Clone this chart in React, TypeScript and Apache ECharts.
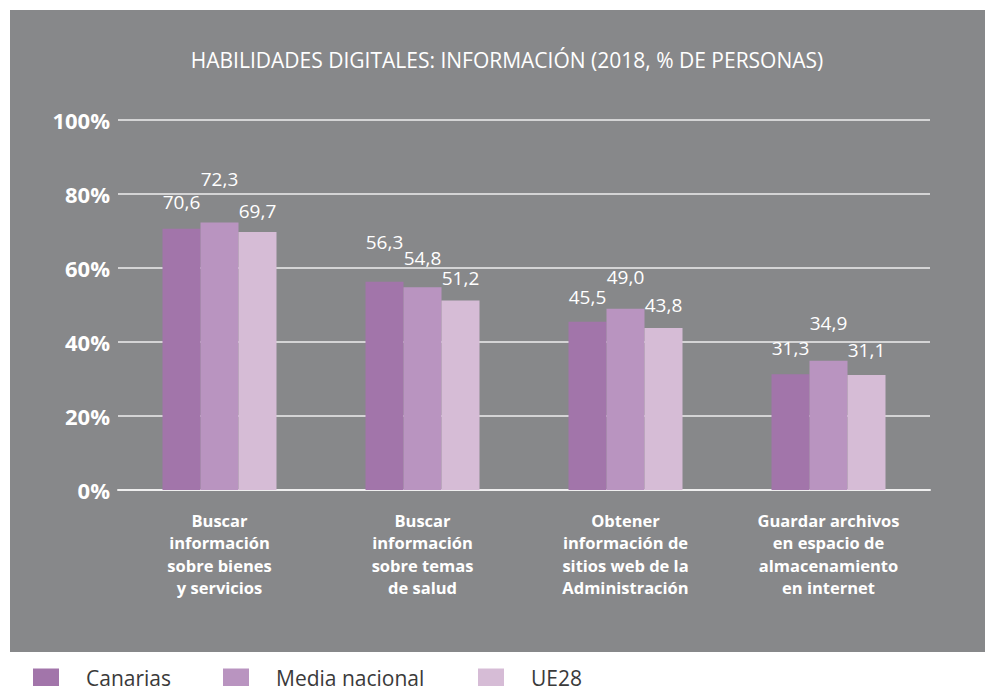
import React, { useEffect, useRef } from "react";
import * as echarts from "echarts";

const titleText = "HABILIDADES DIGITALES: INFORMACIÓN (2018, % DE PERSONAS)";
const categories = [
  "Buscar\ninformación\nsobre bienes\ny servicios",
  "Buscar\ninformación\nsobre temas\nde salud",
  "Obtener\ninformación de\nsitios web de la\nAdministración",
  "Guardar archivos\nen espacio de\nalmacenamiento\nen internet",
];
const seriesNames = ["Canarias", "Media nacional", "UE28"];
const canarias = [70.6, 56.3, 45.5, 31.3];
const mediaNacional = [72.3, 54.8, 49.0, 34.9];
const ue28 = [69.7, 51.2, 43.8, 31.1];
const yTicks = [0, 20, 40, 60, 80, 100];

// styling: label lift above bar per series/category (pixels)
const labelLift = [
  [17, 30, 15, 17],
  [34, 20, 22, 28],
  [12, 13, 13, 15],
];
const colors = ["#a275aa", "#b994c0", "#d6bcd6"];
const legendPos = [33, 223, 478];

export default function App() {
  const ref = useRef<HTMLDivElement>(null);
  useEffect(() => {
    document.body.style.margin = "0";
    const chart = echarts.init(ref.current!, null, { renderer: "svg" });
    const allData = [canarias, mediaNacional, ue28];
    const font = "'Open Sans', sans-serif";
    chart.setOption({
      animation: false,
      textStyle: { fontFamily: font },
      graphic: [
        {
          type: "rect",
          z: -10,
          silent: true,
          shape: { x: 10, y: 10, width: 975, height: 642 },
          style: { fill: "#87888a" },
        },
      ],
      title: {
        text: titleText,
        left: 502,
        textAlign: "center",
        top: 44,
        textStyle: { color: "#ffffff", fontSize: 21, fontWeight: "normal", fontFamily: font },
      },
      legend: seriesNames.map((n, i) => ({
        data: [n],
        left: legendPos[i],
        top: 667,
        padding: 0,
        itemWidth: 26,
        itemHeight: 18,
        icon: "rect",
        textStyle: { color: "#3a3a3a", fontSize: 21, fontFamily: font, padding: [0, 0, 0, 22], lineHeight: 18 },
      })),
      grid: { left: 118, right: 55, top: 120, bottom: 196, containLabel: false },
      xAxis: {
        type: "category",
        data: categories,
        axisLine: { lineStyle: { color: "#eeeeee", width: 2 } },
        axisTick: { inside: true, length: 16, lineStyle: { color: "#eeeeee", width: 2 } },
        axisLabel: {
          interval: 0,
          color: "#ffffff",
          fontWeight: "bold",
          fontSize: 16.5,
          lineHeight: 22.5,
          margin: 19,
          fontFamily: font,
        },
      },
      yAxis: {
        type: "value",
        min: yTicks[0],
        max: yTicks[yTicks.length - 1],
        interval: 20,
        axisLine: { show: false },
        axisTick: { show: false },
        splitLine: { lineStyle: { color: "#eeeeee", width: 1.5 } },
        axisLabel: {
          formatter: "{value}%",
          color: "#ffffff",
          fontWeight: "bold",
          fontSize: 22,
          margin: 8,
          fontFamily: font,
        },
      },
      series: seriesNames.map((n, i) => ({
        name: n,
        type: "bar",
        barWidth: 38,
        barGap: "0%",
        itemStyle: { color: colors[i] },
        data: allData[i].map((v, j) => ({
          value: v,
          label: { distance: labelLift[i][j] },
        })),
        label: {
          show: true,
          position: "top",
          color: "#ffffff",
          fontSize: 19,
          fontFamily: font,
          formatter: (p: any) => Number(p.value).toFixed(1).replace(".", ","),
        },
      })),
    });
    return () => chart.dispose();
  }, []);
  return <div ref={ref} style={{ width: 985, height: 686 }} />;
}
